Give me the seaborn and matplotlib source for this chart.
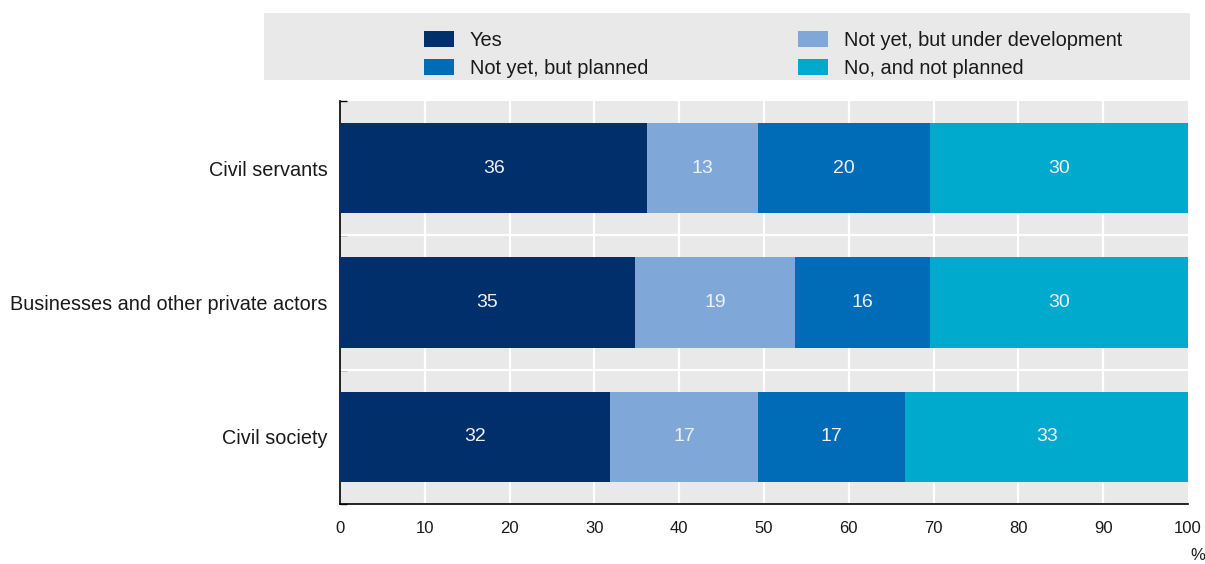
import matplotlib
matplotlib.use("Agg")
import matplotlib.pyplot as plt
from matplotlib.patches import Patch, Rectangle
import seaborn as sns
import pandas as pd

# Share of respondents (%) by target group
categories = ["Civil servants", "Businesses and other private actors", "Civil society"]
series_names = ["Yes", "Not yet, but under development", "Not yet, but planned", "No, and not planned"]
yes = [36.23, 34.78, 31.88]
under_development = [13.04, 18.84, 17.39]
planned = [20.29, 15.94, 17.39]
not_planned = [30.43, 30.43, 33.33]
x_ticks = [0, 10, 20, 30, 40, 50, 60, 70, 80, 90, 100]

colors = {
    "Yes": "#002F6C",
    "Not yet, but under development": "#7FA8D9",
    "Not yet, but planned": "#006BB6",
    "No, and not planned": "#00AACC",
}

sns.set_theme(style="white")
plt.rcParams["font.family"] = ["Liberation Sans", "DejaVu Sans"]

values = pd.DataFrame(
    {
        "Yes": yes,
        "Not yet, but under development": under_development,
        "Not yet, but planned": planned,
        "No, and not planned": not_planned,
    },
    index=categories,
)
cumulative = values.cumsum(axis=1)

fig = plt.figure(figsize=(12.05, 5.64), dpi=100)
ax = fig.add_axes([340 / 1205, 60 / 564, 848 / 1205, 403 / 564])
ax.set_facecolor("#E9E9E9")

# stacked bars: draw cumulative totals from the widest down
for name in reversed(series_names):
    df = pd.DataFrame({"category": categories, "value": cumulative[name].values})
    sns.barplot(
        data=df, x="value", y="category", orient="h", color=colors[name],
        width=0.67, saturation=1, ax=ax, linewidth=0, zorder=3,
    )

# segment labels
for i, cat in enumerate(categories):
    for name in series_names:
        v = values.loc[cat, name]
        centre = cumulative.loc[cat, name] - v / 2
        ax.text(centre, i, f"{v:.0f}", ha="center", va="center",
                color="#F0F0F0", fontsize=14, zorder=4)

ax.set_xlim(0, 100)
ax.set_ylim(2.5, -0.5)
ax.set_xticks(x_ticks)
ax.set_xticklabels([str(t) for t in x_ticks])
ax.set_xlabel("")
ax.set_ylabel("")

# white grid
for t in x_ticks[1:-1]:
    ax.axvline(t, color="white", lw=1.6, zorder=1)
for b in [0.5, 1.5]:
    ax.axhline(b, color="white", lw=1.6, zorder=1)

for side in ["top", "right"]:
    ax.spines[side].set_visible(False)
for side in ["left", "bottom"]:
    ax.spines[side].set_color("black")
    ax.spines[side].set_linewidth(1.2)

ax.tick_params(axis="x", direction="in", length=5, width=1, color="black",
               labelsize=12, pad=12, labelcolor="#1A1A1A")
ax.set_yticks([-0.5, 0.5, 1.5, 2.5], minor=True)
ax.tick_params(axis="y", which="minor", direction="in", length=5, width=1, color="black", left=True)
ax.tick_params(axis="y", which="major", length=0, labelsize=14.3, pad=9, labelcolor="#1A1A1A")

fig.text(1198 / 1205, 1 - 555 / 564, "%", ha="center", va="center", fontsize=12, color="#1A1A1A")

# legend panel
fig.patches.append(Rectangle((264 / 1205, (564 - 80) / 564), 926 / 1205, 67 / 564,
                             transform=fig.transFigure, facecolor="#E9E9E9",
                             edgecolor="none", zorder=0))
legend_order = ["Yes", "Not yet, but planned", "Not yet, but under development", "No, and not planned"]
handles = [Patch(facecolor=colors[n], edgecolor="none", label=n) for n in legend_order]
fig.legend(handles=handles, loc="upper left", bbox_to_anchor=(424 / 1205, 1 - 31 / 564),
           ncol=2, frameon=False, fontsize=14.4, borderpad=0, borderaxespad=0,
           handlelength=1.5, handleheight=0.8, handletextpad=0.8,
           columnspacing=7.5, labelspacing=0.45, labelcolor="#1A1A1A")

fig.savefig("out.png", dpi=100)
